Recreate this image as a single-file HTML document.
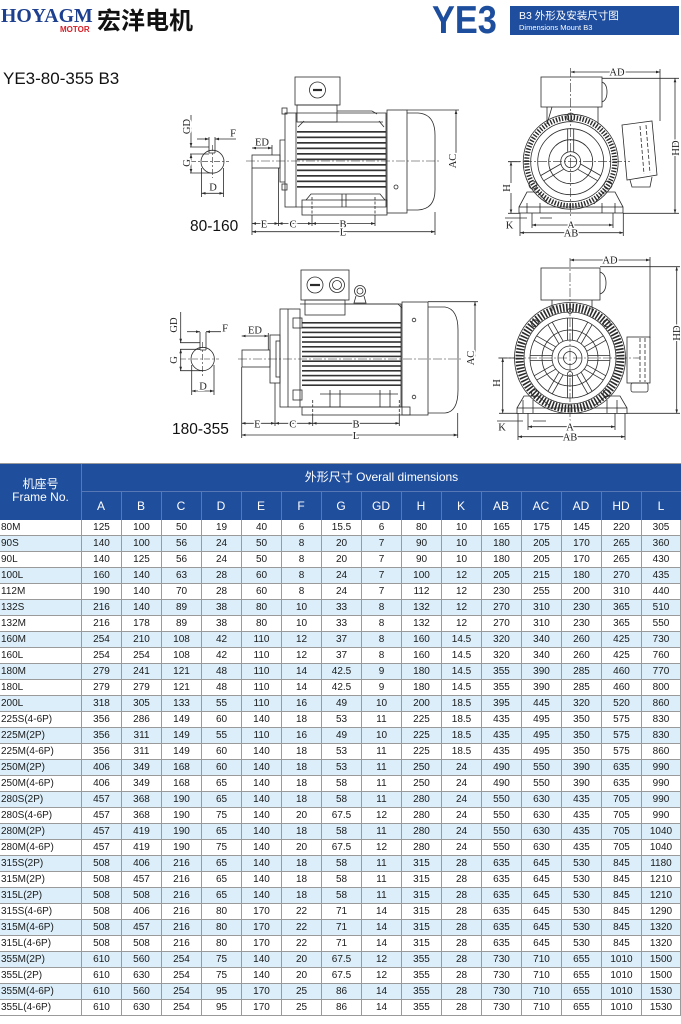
<!DOCTYPE html>
<html><head><meta charset="utf-8">
<style>
html,body{margin:0;padding:0;background:#fff;}
body{width:681px;height:1024px;position:relative;overflow:hidden;font-family:"Liberation Sans","Noto Sans CJK SC",sans-serif;}
.abs{position:absolute;}
.r{position:absolute;left:0;width:681px;height:16px;display:flex;box-sizing:border-box;border-bottom:1px solid #9a9a9a;font-size:10px;color:#1a1a1a;}
.r.b{background:#dbeef9;}
.r span{display:block;width:40px;box-sizing:border-box;border-left:1px solid #9a9a9a;text-align:center;line-height:15px;white-space:nowrap;}
.r span.f{width:81px;border-left:none;text-align:left;padding-left:1px;}
.r span:last-child{border-right:1px solid #9a9a9a;}
.hc{position:absolute;top:28px;height:28px;width:40px;line-height:28px;text-align:center;font-size:12px;}
.vd{position:absolute;top:28px;width:1px;height:28px;background:#5877b5;}
svg text{font-family:"Liberation Serif",serif;}
.l{fill:#222;stroke:#fff;stroke-width:3;paint-order:stroke;font-size:10.5px;text-anchor:middle;}
</style></head>
<body>
<!-- Header -->
<div class="abs" style="left:1px;top:5px;font-family:'Liberation Serif',serif;font-weight:bold;font-size:20px;line-height:22px;color:#1d3f8f;transform:scaleX(0.99);transform-origin:left top;">HOYAGM</div>
<div class="abs" style="left:60px;top:25px;font-weight:bold;font-size:8px;line-height:9px;color:#d41f28;">MOTOR</div>
<div class="abs" style="left:97px;top:8px;font-family:'Liberation Sans','Noto Sans CJK SC',sans-serif;font-weight:bold;font-size:24px;line-height:27px;color:#111;">宏洋电机</div>

<div class="abs" style="left:432px;top:0px;font-weight:bold;font-size:39px;line-height:42px;color:#1d4e9e;transform:scaleX(0.88);transform-origin:left top;">YE3</div>
<div class="abs" style="left:510px;top:6px;width:169px;height:29px;background:#1f4e9f;color:#fff;">
  <div class="abs" style="left:9px;top:4px;font-size:10.5px;line-height:12px;white-space:nowrap;">B3 外形及安装尺寸图</div>
  <div class="abs" style="left:9px;top:17px;font-size:7.5px;line-height:9px;white-space:nowrap;">Dimensions Mount B3</div>
</div>

<div class="abs" style="left:3px;top:69px;font-size:17px;line-height:20px;color:#111;">YE3-80-355 B3</div>
<div class="abs" style="left:190px;top:218px;font-size:15.5px;line-height:18px;color:#111;">80-160</div>
<div class="abs" style="left:172px;top:421px;font-size:15.5px;line-height:18px;color:#111;">180-355</div>

<!-- Drawings -->
<svg class="abs" style="left:0;top:0" width="681" height="460" viewBox="0 0 681 460" fill="none" stroke="#2b2b2b" stroke-width="0.8">
<defs>
<marker id="a" viewBox="0 0 6 6" refX="6" refY="3" markerWidth="5" markerHeight="5" orient="auto-start-reverse"><path d="M0 1 L6 3 L0 5 z" fill="#2b2b2b" stroke="none"/></marker>
</defs>

<!-- ===== Shaft section 1 ===== -->
<circle cx="212.5" cy="161.7" r="11.5"/>
<path d="M209 137 V153 M215 137 V153 M209 153 H215"/>
<line x1="190" y1="161.7" x2="229" y2="161.7" stroke-dasharray="6 2 2 2" stroke-width="0.6"/>
<line x1="212.5" y1="145" x2="212.5" y2="178" stroke-dasharray="6 2 2 2" stroke-width="0.6"/>
<path d="M190 147 H209 M190 154 H209 M190 173 H212"/>
<line x1="191" y1="115" x2="191" y2="147" marker-end="url(#a)"/>
<line x1="191" y1="154" x2="191" y2="173" marker-start="url(#a)" marker-end="url(#a)"/>
<line x1="197" y1="139" x2="209" y2="139" marker-end="url(#a)"/>
<line x1="215" y1="139" x2="236" y2="139" marker-start="url(#a)"/>
<path d="M201.5 168 V197 M223.5 168 V197"/>
<line x1="201.5" y1="193.3" x2="223.5" y2="193.3" marker-start="url(#a)" marker-end="url(#a)"/>
<text class="l" transform="translate(190 126.5) rotate(-90)">GD</text>
<text class="l" transform="translate(190 163) rotate(-90)">G</text>
<text class="l" x="233" y="136.5">F</text>
<text class="l" x="213" y="190.5">D</text>

<!-- ===== Side view 1 ===== -->
<rect x="295" y="77" width="45" height="28"/>
<circle cx="317.5" cy="90" r="8"/>
<line x1="313" y1="90" x2="322" y2="90" stroke-width="2.2"/>
<rect x="297" y="105" width="40" height="17"/>
<path d="M337 111 H372 L377 114"/>
<path d="M296 113 H386 V207 H296"/>
<path d="M300 122 H383 M298 127 L304 121 M384 127 L379 121"/>
<g fill="#333" stroke="none">
<rect x="297" y="131" width="89" height="1.7"/><rect x="297" y="136.5" width="89" height="1.7"/>
<rect x="297" y="142" width="89" height="1.7"/><rect x="297" y="147.5" width="89" height="1.7"/>
<rect x="297" y="153" width="89" height="1.7"/><rect x="297" y="158.5" width="89" height="1.7"/>
<rect x="297" y="164" width="89" height="1.7"/><rect x="297" y="169.5" width="89" height="1.7"/>
<rect x="297" y="175" width="89" height="1.7"/><rect x="297" y="180.5" width="89" height="1.7"/>
<rect x="297" y="186" width="89" height="1.7"/>
</g>
<rect x="285" y="113" width="11" height="94"/>
<rect x="282" y="108" width="5" height="6"/>
<rect x="282" y="184" width="5" height="6"/>
<path d="M285 140 H280 V182 H285"/>
<rect x="252" y="155" width="28" height="13"/>
<rect x="387" y="110" width="20" height="103"/>
<path d="M407 113 H418 Q435 114 435 135 V190 Q435 209 418 210 H407"/>
<circle cx="396" cy="187" r="2"/>
<rect x="302" y="200" width="85" height="15"/>
<path d="M306 200 L311 194 H380 L385 200 M342 194 V207 M346 194 V207"/>
<line x1="312" y1="197" x2="312" y2="215" stroke-dasharray="3 1.5"/>
<line x1="375" y1="197" x2="375" y2="215" stroke-dasharray="3 1.5"/>
<line x1="246" y1="161" x2="440" y2="161" stroke-dasharray="9 2 2 2" stroke-width="0.6"/>
<!-- dims side 1 -->
<path d="M252 168 V235 M278.5 168 V226 M312 215 V226 M375 215 V226 M435 212 V235 M272 145 V155"/>
<line x1="252" y1="223.5" x2="278.5" y2="223.5" marker-start="url(#a)" marker-end="url(#a)"/>
<line x1="278.5" y1="223.5" x2="312" y2="223.5" marker-start="url(#a)" marker-end="url(#a)"/>
<line x1="312" y1="223.5" x2="375" y2="223.5" marker-start="url(#a)" marker-end="url(#a)"/>
<line x1="252" y1="231.7" x2="435" y2="231.7" marker-start="url(#a)" marker-end="url(#a)"/>
<line x1="252" y1="148" x2="272" y2="148" marker-start="url(#a)" marker-end="url(#a)"/>
<path d="M407 110 H459"/>
<line x1="456" y1="110" x2="456" y2="161" marker-start="url(#a)"/>
<text class="l" x="264" y="227.5">E</text>
<text class="l" x="293" y="227.5">C</text>
<text class="l" x="343" y="227.5">B</text>
<text class="l" x="343" y="235.5">L</text>
<text class="l" x="262" y="145.5">ED</text>
<text class="l" transform="translate(456 161) rotate(-90)">AC</text>

<!-- ===== Front view 1 ===== -->
<rect x="541" y="77" width="61" height="30"/>
<path d="M602 82 Q607 84 607 92 Q607 100 602 102"/>
<path d="M547 107 V124 M598 107 V124 M552 107 L547 124"/>
<circle cx="570.7" cy="117" r="4"/>
<circle cx="570.7" cy="161.7" r="47.5"/>
<circle cx="570.7" cy="161.7" r="44" stroke-width="5" stroke-dasharray="1.4 1.6"/>
<circle cx="570.7" cy="161.7" r="40"/>
<circle cx="570.7" cy="161.7" r="33"/>
<circle cx="570.7" cy="161.7" r="22"/>
<circle cx="570.7" cy="161.7" r="10"/>
<circle cx="570.7" cy="161.7" r="6"/>
<g transform="translate(570.7 161.7)">
<path d="M-3 -10 V-33 M3 -10 V-33"/>
<path d="M-3 -10 V-33 M3 -10 V-33" transform="rotate(120)"/>
<path d="M-3 -10 V-33 M3 -10 V-33" transform="rotate(240)"/>
</g>
<circle cx="533" cy="185" r="4"/><circle cx="608" cy="185" r="4"/>
<path d="M622 125 L652 121 L657 175 L627 180 Z"/>
<path d="M640 126 L644 174 M646 125 L650 173" stroke-dasharray="4 2"/>
<path d="M630 180 L632 187 H650 L652 177"/>
<rect x="519" y="207" width="104" height="6"/>
<path d="M519 207 L527 192 H538 L548 204 M623 207 L615 192 H604 L594 204"/>
<path d="M527 203 V213 M540 203 V213 M602 203 V213 M615 203 V213"/>
<line x1="570.7" y1="68" x2="570.7" y2="236" stroke-dasharray="9 2 2 2" stroke-width="0.6"/>
<line x1="508" y1="161.7" x2="630" y2="161.7" stroke-dasharray="9 2 2 2" stroke-width="0.6"/>
<!-- dims front 1 -->
<line x1="570.7" y1="72" x2="660" y2="72" marker-start="url(#a)" marker-end="url(#a)"/>
<path d="M660 69 V121"/>
<path d="M602 78.3 H679 M623 213.3 H679"/>
<line x1="675" y1="78.3" x2="675" y2="213.3" marker-start="url(#a)" marker-end="url(#a)"/>
<path d="M508 161.7 H520 M508 213.3 H520"/>
<line x1="511" y1="161.7" x2="511" y2="213.3" marker-start="url(#a)" marker-end="url(#a)"/>
<path d="M520 213 V236 M623.3 213 V236 M532 213 V228 M613 213 V228"/>
<line x1="532" y1="225" x2="613" y2="225" marker-start="url(#a)" marker-end="url(#a)"/>
<line x1="520" y1="232.7" x2="623.3" y2="232.7" marker-start="url(#a)" marker-end="url(#a)"/>
<path d="M505 218 H527 M540 218 H552"/>
<text class="l" x="617" y="75.5">AD</text>
<text class="l" transform="translate(679 148) rotate(-90)">HD</text>
<text class="l" transform="translate(510 188) rotate(-90)">H</text>
<text class="l" x="509.5" y="228.5">K</text>
<text class="l" x="571" y="228.5">A</text>
<text class="l" x="571" y="236.5">AB</text>

<!-- ===== Shaft section 2 ===== -->
<circle cx="202.7" cy="359" r="11.7"/>
<path d="M200 332 V350 M206 332 V350 M200 350 H206"/>
<line x1="180" y1="359" x2="219" y2="359" stroke-dasharray="6 2 2 2" stroke-width="0.6"/>
<line x1="202.7" y1="342" x2="202.7" y2="376" stroke-dasharray="6 2 2 2" stroke-width="0.6"/>
<path d="M180 342.7 H200 M180 349.3 H200 M180 370.7 H203"/>
<line x1="180.7" y1="312" x2="180.7" y2="342.7" marker-end="url(#a)"/>
<line x1="180.7" y1="349.3" x2="180.7" y2="370.7" marker-start="url(#a)" marker-end="url(#a)"/>
<line x1="187" y1="331.7" x2="200" y2="331.7" marker-end="url(#a)"/>
<line x1="206" y1="331.7" x2="226" y2="331.7" marker-start="url(#a)"/>
<path d="M191.7 365 V395 M214 365 V395"/>
<line x1="191.7" y1="391" x2="214" y2="391" marker-start="url(#a)" marker-end="url(#a)"/>
<text class="l" transform="translate(177 325) rotate(-90)">GD</text>
<text class="l" transform="translate(177 360) rotate(-90)">G</text>
<text class="l" x="225" y="331.5">F</text>
<text class="l" x="203" y="389.5">D</text>

<!-- ===== Side view 2 ===== -->
<rect x="301" y="270" width="48" height="30"/>
<circle cx="315" cy="285" r="8"/>
<line x1="310" y1="285" x2="320" y2="285" stroke-width="2.2"/>
<circle cx="337" cy="285" r="7.5"/><circle cx="337" cy="285" r="4.5"/>
<circle cx="360" cy="291" r="5.5"/><circle cx="360" cy="291" r="3"/>
<path d="M356 296 L354 303 H366 L364 296"/>
<rect x="305" y="300" width="40" height="15"/>
<path d="M345 304 H398 L402 308"/>
<path d="M300 304 H401 V407 H300"/>
<g fill="#333" stroke="none">
<rect x="302" y="322" width="99" height="1.6"/><rect x="302" y="326.8" width="99" height="1.6"/>
<rect x="302" y="331.6" width="99" height="1.6"/><rect x="302" y="336.4" width="99" height="1.6"/>
<rect x="302" y="341.2" width="99" height="1.6"/><rect x="302" y="346" width="99" height="1.6"/>
<rect x="302" y="350.8" width="99" height="1.6"/><rect x="302" y="355.6" width="99" height="1.6"/>
<rect x="302" y="360.4" width="99" height="1.6"/><rect x="302" y="365.2" width="99" height="1.6"/>
<rect x="302" y="370" width="99" height="1.6"/><rect x="302" y="374.8" width="99" height="1.6"/>
<rect x="302" y="379.6" width="99" height="1.6"/><rect x="302" y="384.4" width="99" height="1.6"/>
</g>
<rect x="280" y="309" width="20" height="98"/>
<path d="M288 309 V407"/>
<rect x="293" y="318" width="9" height="10"/>
<rect x="293" y="390" width="9" height="10"/>
<rect x="270" y="335" width="10" height="48"/>
<rect x="276" y="341" width="4" height="36"/>
<rect x="242" y="350" width="28" height="17"/>
<rect x="402" y="302" width="26" height="113"/>
<path d="M428 307 H445 Q458 309 458 330 V390 Q458 412 445 413 H428"/>
<circle cx="414" cy="320" r="1.8"/><circle cx="414" cy="397" r="1.8"/>
<rect x="302" y="407" width="108" height="8"/>
<path d="M330 390 V407 M340 390 V407 M380 390 V407 M390 390 V407 M320 394 H398"/>
<line x1="312.7" y1="400" x2="312.7" y2="415" stroke-dasharray="3 1.5"/>
<line x1="399.3" y1="400" x2="399.3" y2="415" stroke-dasharray="3 1.5"/>
<line x1="238" y1="359" x2="462" y2="359" stroke-dasharray="9 2 2 2" stroke-width="0.6"/>
<!-- dims side 2 -->
<path d="M241.7 367 V438 M275 383 V426 M312.7 415 V426 M399.3 415 V426 M457.7 413 V438 M268.3 333 V350"/>
<line x1="241.7" y1="423.3" x2="275" y2="423.3" marker-start="url(#a)" marker-end="url(#a)"/>
<line x1="275" y1="423.3" x2="312.7" y2="423.3" marker-start="url(#a)" marker-end="url(#a)"/>
<line x1="312.7" y1="423.3" x2="399.3" y2="423.3" marker-start="url(#a)" marker-end="url(#a)"/>
<line x1="241.7" y1="435" x2="457.7" y2="435" marker-start="url(#a)" marker-end="url(#a)"/>
<line x1="241.7" y1="336" x2="268.3" y2="336" marker-start="url(#a)" marker-end="url(#a)"/>
<path d="M428 301.7 H478"/>
<line x1="475" y1="301.7" x2="475" y2="359" marker-start="url(#a)"/>
<text class="l" x="257.3" y="427.3">E</text>
<text class="l" x="292.7" y="427.3">C</text>
<text class="l" x="356" y="427.3">B</text>
<text class="l" x="356" y="439">L</text>
<text class="l" x="255" y="333.5">ED</text>
<text class="l" transform="translate(474 358) rotate(-90)">AC</text>

<!-- ===== Front view 2 ===== -->
<rect x="541" y="268" width="59" height="32"/>
<path d="M600 272 Q606 274 606 283 Q606 292 600 294"/>
<path d="M552 300 V311 M592 300 V311"/>
<circle cx="570" cy="358" r="55.5"/>
<circle cx="570" cy="358" r="50.5" stroke-width="8" stroke-dasharray="1.6 1.6"/>
<circle cx="570" cy="358" r="46"/>
<circle cx="570" cy="358" r="40"/>
<circle cx="570" cy="358" r="28"/>
<circle cx="570" cy="358" r="18"/>
<circle cx="570" cy="358" r="12"/>
<circle cx="570" cy="358" r="6.5"/>
<g transform="translate(570 358)">
<path d="M-2.5 -18 V-40 M2.5 -18 V-40"/>
<path d="M-2.5 -18 V-40 M2.5 -18 V-40" transform="rotate(30)"/>
<path d="M-2.5 -18 V-40 M2.5 -18 V-40" transform="rotate(60)"/>
<path d="M-2.5 -18 V-40 M2.5 -18 V-40" transform="rotate(90)"/>
<path d="M-2.5 -18 V-40 M2.5 -18 V-40" transform="rotate(120)"/>
<path d="M-2.5 -18 V-40 M2.5 -18 V-40" transform="rotate(150)"/>
<path d="M-2.5 -18 V-40 M2.5 -18 V-40" transform="rotate(180)"/>
<path d="M-2.5 -18 V-40 M2.5 -18 V-40" transform="rotate(210)"/>
<path d="M-2.5 -18 V-40 M2.5 -18 V-40" transform="rotate(240)"/>
<path d="M-2.5 -18 V-40 M2.5 -18 V-40" transform="rotate(270)"/>
<path d="M-2.5 -18 V-40 M2.5 -18 V-40" transform="rotate(300)"/>
<path d="M-2.5 -18 V-40 M2.5 -18 V-40" transform="rotate(330)"/>
</g>
<circle cx="535" cy="323.3" r="3.5"/><circle cx="606.7" cy="323.3" r="3.5"/>
<circle cx="535" cy="393.3" r="3.5"/><circle cx="606.7" cy="393.3" r="3.5"/>
<circle cx="570" cy="311" r="2.5"/><circle cx="570" cy="374" r="2.5"/>
<rect x="627" y="337" width="23" height="46"/>
<path d="M640 338 V382 M645 338 V382" stroke-dasharray="4 2"/>
<rect x="631" y="383" width="17" height="9" rx="2"/>
<rect x="517" y="408" width="110" height="5.5"/>
<path d="M517 408 L524 396 H538 L550 406 M627 408 L620 396 H606 L594 406"/>
<path d="M523 400 V413 M533 400 V413 M607 400 V413 M617 400 V413"/>
<line x1="570" y1="258" x2="570" y2="440" stroke-dasharray="9 2 2 2" stroke-width="0.6"/>
<line x1="498" y1="358" x2="640" y2="358" stroke-dasharray="9 2 2 2" stroke-width="0.6"/>
<!-- dims front 2 -->
<line x1="570" y1="260" x2="650" y2="260" marker-start="url(#a)" marker-end="url(#a)"/>
<path d="M650 257 V338"/>
<path d="M600 266.7 H680 M627 413.3 H680"/>
<line x1="676.7" y1="266.7" x2="676.7" y2="413.3" marker-start="url(#a)" marker-end="url(#a)"/>
<path d="M499 358 H515 M499 413.3 H517"/>
<line x1="502.7" y1="358" x2="502.7" y2="413.3" marker-start="url(#a)" marker-end="url(#a)"/>
<path d="M518 413 V440 M625 413 V440 M528 413 V430 M615 413 V430"/>
<line x1="528" y1="426.7" x2="615" y2="426.7" marker-start="url(#a)" marker-end="url(#a)"/>
<line x1="518" y1="436.7" x2="625" y2="436.7" marker-start="url(#a)" marker-end="url(#a)"/>
<path d="M497 421 H523 M533 421 H546"/>
<text class="l" x="610" y="263.5">AD</text>
<text class="l" transform="translate(680 333) rotate(-90)">HD</text>
<text class="l" transform="translate(500 383) rotate(-90)">H</text>
<text class="l" x="502" y="430.5">K</text>
<text class="l" x="570" y="430.5">A</text>
<text class="l" x="570" y="440.5">AB</text>
</svg>

<!-- Table header -->
<div class="abs" style="left:0;top:463px;width:681px;height:57px;background:#1f4e9d;border-top:1px solid #9a9a9a;box-sizing:border-box;color:#fff;">
  <div class="abs" style="left:0;top:14px;width:81px;text-align:center;font-size:12px;line-height:13px;">机座号<br>Frame No.</div>
  <div class="abs" style="left:81px;top:0;width:1px;height:56px;background:#5877b5;"></div>
  <div class="abs" style="left:82px;top:0;width:599px;height:27px;line-height:27px;text-align:center;font-size:12px;">外形尺寸 Overall dimensions</div>
  <div class="abs" style="left:82px;top:27px;width:599px;height:1px;background:#5877b5;"></div>
  <div class="hc" style="left:81px">A</div>
  <div class="vd" style="left:121px"></div><div class="hc" style="left:121px">B</div>
  <div class="vd" style="left:161px"></div><div class="hc" style="left:161px">C</div>
  <div class="vd" style="left:201px"></div><div class="hc" style="left:201px">D</div>
  <div class="vd" style="left:241px"></div><div class="hc" style="left:241px">E</div>
  <div class="vd" style="left:281px"></div><div class="hc" style="left:281px">F</div>
  <div class="vd" style="left:321px"></div><div class="hc" style="left:321px">G</div>
  <div class="vd" style="left:361px"></div><div class="hc" style="left:361px">GD</div>
  <div class="vd" style="left:401px"></div><div class="hc" style="left:401px">H</div>
  <div class="vd" style="left:441px"></div><div class="hc" style="left:441px">K</div>
  <div class="vd" style="left:481px"></div><div class="hc" style="left:481px">AB</div>
  <div class="vd" style="left:521px"></div><div class="hc" style="left:521px">AC</div>
  <div class="vd" style="left:561px"></div><div class="hc" style="left:561px">AD</div>
  <div class="vd" style="left:601px"></div><div class="hc" style="left:601px">HD</div>
  <div class="vd" style="left:641px"></div><div class="hc" style="left:641px">L</div>
</div>

<!-- Table rows -->
<div class="r" style="top:520px"><span class="f">80M</span><span>125</span><span>100</span><span>50</span><span>19</span><span>40</span><span>6</span><span>15.5</span><span>6</span><span>80</span><span>10</span><span>165</span><span>175</span><span>145</span><span>220</span><span>305</span></div>
<div class="r b" style="top:536px"><span class="f">90S</span><span>140</span><span>100</span><span>56</span><span>24</span><span>50</span><span>8</span><span>20</span><span>7</span><span>90</span><span>10</span><span>180</span><span>205</span><span>170</span><span>265</span><span>360</span></div>
<div class="r" style="top:552px"><span class="f">90L</span><span>140</span><span>125</span><span>56</span><span>24</span><span>50</span><span>8</span><span>20</span><span>7</span><span>90</span><span>10</span><span>180</span><span>205</span><span>170</span><span>265</span><span>430</span></div>
<div class="r b" style="top:568px"><span class="f">100L</span><span>160</span><span>140</span><span>63</span><span>28</span><span>60</span><span>8</span><span>24</span><span>7</span><span>100</span><span>12</span><span>205</span><span>215</span><span>180</span><span>270</span><span>435</span></div>
<div class="r" style="top:584px"><span class="f">112M</span><span>190</span><span>140</span><span>70</span><span>28</span><span>60</span><span>8</span><span>24</span><span>7</span><span>112</span><span>12</span><span>230</span><span>255</span><span>200</span><span>310</span><span>440</span></div>
<div class="r b" style="top:600px"><span class="f">132S</span><span>216</span><span>140</span><span>89</span><span>38</span><span>80</span><span>10</span><span>33</span><span>8</span><span>132</span><span>12</span><span>270</span><span>310</span><span>230</span><span>365</span><span>510</span></div>
<div class="r" style="top:616px"><span class="f">132M</span><span>216</span><span>178</span><span>89</span><span>38</span><span>80</span><span>10</span><span>33</span><span>8</span><span>132</span><span>12</span><span>270</span><span>310</span><span>230</span><span>365</span><span>550</span></div>
<div class="r b" style="top:632px"><span class="f">160M</span><span>254</span><span>210</span><span>108</span><span>42</span><span>110</span><span>12</span><span>37</span><span>8</span><span>160</span><span>14.5</span><span>320</span><span>340</span><span>260</span><span>425</span><span>730</span></div>
<div class="r" style="top:648px"><span class="f">160L</span><span>254</span><span>254</span><span>108</span><span>42</span><span>110</span><span>12</span><span>37</span><span>8</span><span>160</span><span>14.5</span><span>320</span><span>340</span><span>260</span><span>425</span><span>760</span></div>
<div class="r b" style="top:664px"><span class="f">180M</span><span>279</span><span>241</span><span>121</span><span>48</span><span>110</span><span>14</span><span>42.5</span><span>9</span><span>180</span><span>14.5</span><span>355</span><span>390</span><span>285</span><span>460</span><span>770</span></div>
<div class="r" style="top:680px"><span class="f">180L</span><span>279</span><span>279</span><span>121</span><span>48</span><span>110</span><span>14</span><span>42.5</span><span>9</span><span>180</span><span>14.5</span><span>355</span><span>390</span><span>285</span><span>460</span><span>800</span></div>
<div class="r b" style="top:696px"><span class="f">200L</span><span>318</span><span>305</span><span>133</span><span>55</span><span>110</span><span>16</span><span>49</span><span>10</span><span>200</span><span>18.5</span><span>395</span><span>445</span><span>320</span><span>520</span><span>860</span></div>
<div class="r" style="top:712px"><span class="f">225S(4-6P)</span><span>356</span><span>286</span><span>149</span><span>60</span><span>140</span><span>18</span><span>53</span><span>11</span><span>225</span><span>18.5</span><span>435</span><span>495</span><span>350</span><span>575</span><span>830</span></div>
<div class="r b" style="top:728px"><span class="f">225M(2P)</span><span>356</span><span>311</span><span>149</span><span>55</span><span>110</span><span>16</span><span>49</span><span>10</span><span>225</span><span>18.5</span><span>435</span><span>495</span><span>350</span><span>575</span><span>830</span></div>
<div class="r" style="top:744px"><span class="f">225M(4-6P)</span><span>356</span><span>311</span><span>149</span><span>60</span><span>140</span><span>18</span><span>53</span><span>11</span><span>225</span><span>18.5</span><span>435</span><span>495</span><span>350</span><span>575</span><span>860</span></div>
<div class="r b" style="top:760px"><span class="f">250M(2P)</span><span>406</span><span>349</span><span>168</span><span>60</span><span>140</span><span>18</span><span>53</span><span>11</span><span>250</span><span>24</span><span>490</span><span>550</span><span>390</span><span>635</span><span>990</span></div>
<div class="r" style="top:776px"><span class="f">250M(4-6P)</span><span>406</span><span>349</span><span>168</span><span>65</span><span>140</span><span>18</span><span>58</span><span>11</span><span>250</span><span>24</span><span>490</span><span>550</span><span>390</span><span>635</span><span>990</span></div>
<div class="r b" style="top:792px"><span class="f">280S(2P)</span><span>457</span><span>368</span><span>190</span><span>65</span><span>140</span><span>18</span><span>58</span><span>11</span><span>280</span><span>24</span><span>550</span><span>630</span><span>435</span><span>705</span><span>990</span></div>
<div class="r" style="top:808px"><span class="f">280S(4-6P)</span><span>457</span><span>368</span><span>190</span><span>75</span><span>140</span><span>20</span><span>67.5</span><span>12</span><span>280</span><span>24</span><span>550</span><span>630</span><span>435</span><span>705</span><span>990</span></div>
<div class="r b" style="top:824px"><span class="f">280M(2P)</span><span>457</span><span>419</span><span>190</span><span>65</span><span>140</span><span>18</span><span>58</span><span>11</span><span>280</span><span>24</span><span>550</span><span>630</span><span>435</span><span>705</span><span>1040</span></div>
<div class="r" style="top:840px"><span class="f">280M(4-6P)</span><span>457</span><span>419</span><span>190</span><span>75</span><span>140</span><span>20</span><span>67.5</span><span>12</span><span>280</span><span>24</span><span>550</span><span>630</span><span>435</span><span>705</span><span>1040</span></div>
<div class="r b" style="top:856px"><span class="f">315S(2P)</span><span>508</span><span>406</span><span>216</span><span>65</span><span>140</span><span>18</span><span>58</span><span>11</span><span>315</span><span>28</span><span>635</span><span>645</span><span>530</span><span>845</span><span>1180</span></div>
<div class="r" style="top:872px"><span class="f">315M(2P)</span><span>508</span><span>457</span><span>216</span><span>65</span><span>140</span><span>18</span><span>58</span><span>11</span><span>315</span><span>28</span><span>635</span><span>645</span><span>530</span><span>845</span><span>1210</span></div>
<div class="r b" style="top:888px"><span class="f">315L(2P)</span><span>508</span><span>508</span><span>216</span><span>65</span><span>140</span><span>18</span><span>58</span><span>11</span><span>315</span><span>28</span><span>635</span><span>645</span><span>530</span><span>845</span><span>1210</span></div>
<div class="r" style="top:904px"><span class="f">315S(4-6P)</span><span>508</span><span>406</span><span>216</span><span>80</span><span>170</span><span>22</span><span>71</span><span>14</span><span>315</span><span>28</span><span>635</span><span>645</span><span>530</span><span>845</span><span>1290</span></div>
<div class="r b" style="top:920px"><span class="f">315M(4-6P)</span><span>508</span><span>457</span><span>216</span><span>80</span><span>170</span><span>22</span><span>71</span><span>14</span><span>315</span><span>28</span><span>635</span><span>645</span><span>530</span><span>845</span><span>1320</span></div>
<div class="r" style="top:936px"><span class="f">315L(4-6P)</span><span>508</span><span>508</span><span>216</span><span>80</span><span>170</span><span>22</span><span>71</span><span>14</span><span>315</span><span>28</span><span>635</span><span>645</span><span>530</span><span>845</span><span>1320</span></div>
<div class="r b" style="top:952px"><span class="f">355M(2P)</span><span>610</span><span>560</span><span>254</span><span>75</span><span>140</span><span>20</span><span>67.5</span><span>12</span><span>355</span><span>28</span><span>730</span><span>710</span><span>655</span><span>1010</span><span>1500</span></div>
<div class="r" style="top:968px"><span class="f">355L(2P)</span><span>610</span><span>630</span><span>254</span><span>75</span><span>140</span><span>20</span><span>67.5</span><span>12</span><span>355</span><span>28</span><span>730</span><span>710</span><span>655</span><span>1010</span><span>1500</span></div>
<div class="r b" style="top:984px"><span class="f">355M(4-6P)</span><span>610</span><span>560</span><span>254</span><span>95</span><span>170</span><span>25</span><span>86</span><span>14</span><span>355</span><span>28</span><span>730</span><span>710</span><span>655</span><span>1010</span><span>1530</span></div>
<div class="r" style="top:1000px"><span class="f">355L(4-6P)</span><span>610</span><span>630</span><span>254</span><span>95</span><span>170</span><span>25</span><span>86</span><span>14</span><span>355</span><span>28</span><span>730</span><span>710</span><span>655</span><span>1010</span><span>1530</span></div>
</body></html>
